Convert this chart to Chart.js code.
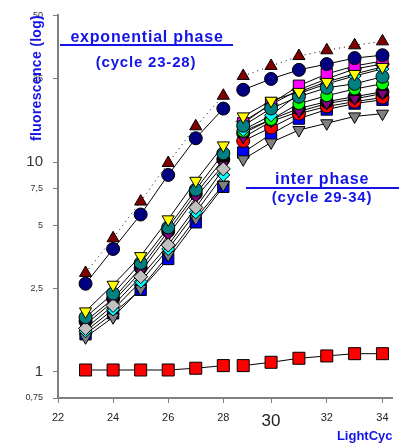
<!DOCTYPE html>
<html>
<head>
<meta charset="utf-8">
<script src="https://cdn.jsdelivr.net/npm/chart.js@4.4.1/dist/chart.umd.min.js"></script>
<style>
  html, body { margin: 0; padding: 0; background: #fff; }
</style>
</head>
<body>
<canvas id="pcrChart" width="402" height="447"></canvas>
<script>
// cycles of the two pasted panels
const cyclesExp = [23, 24, 25, 26, 27, 28];
const cyclesInter = [29, 30, 31, 32, 33, 34];

// tick labels
const yTicks = [0.75, 1, 2.5, 5, 7.5, 10, 25, 50];
const xTicksExp = [22, 24, 26, 28];
const xTicksInter = [30, 32, 34];

// fluorescence values, exponential phase (cycle 23-28)
const maroonExp  = [2.96, 4.33, 6.48, 9.89, 14.8, 20.7];
const navyExp    = [2.63, 3.85, 5.62, 8.68, 12.98, 17.98];
const yellowExp  = [1.94, 2.60, 3.56, 5.33, 8.14, 12.0];
const tealExp    = [1.82, 2.36, 3.30, 4.88, 7.38, 11.0];
const blackExp   = [1.74, 2.23, 3.13, 4.68, 7.06, 10.3];
const purpleExp  = [1.68, 2.16, 2.99, 4.48, 6.77, 9.68];
const silverExp  = [1.61, 2.07, 2.84, 4.02, 6.07, 9.27];
const cyanExp    = [1.56, 1.98, 2.69, 3.85, 5.75, 8.68];
const blueExp    = [1.51, 1.90, 2.46, 3.45, 5.16, 7.62];
const grayExp    = [1.46, 1.82, 2.49, 3.60, 5.38, 7.79];
const controlExp = [1.02, 1.02, 1.02, 1.02, 1.04, 1.07];

// fluorescence values, inter phase (cycle 29-34)
const maroonInter  = [25.7, 28.7, 32.0, 34.1, 36.0, 37.6];
const navyInter    = [22.1, 24.9, 27.5, 29.3, 31.3, 32.3];
const magentaInter = [15.3, 19.0, 23.1, 26.3, 28.7, 30.3];
const yellowInter  = [16.5, 19.6, 21.6, 24.1, 26.3, 28.4];
const silverInter  = [15.6, 18.8, 22.1, 24.9, 27.8, 29.3];
const cyanInter    = [14.2, 16.7, 21.2, 23.6, 25.7, 27.8];
const tealInter    = [14.9, 18.0, 20.5, 22.6, 23.6, 25.5];
const greenInter   = [14.0, 15.95, 19.0, 20.7, 22.3, 23.6];
const blackInter   = [13.7, 15.95, 18.0, 19.4, 20.5, 21.6];
const purpleInter  = [13.1, 15.6, 17.4, 19.0, 20.0, 21.2];
const redInter     = [12.6, 14.6, 17.0, 18.4, 19.4, 20.3];
const blueInter    = [11.1, 13.6, 16.1, 17.8, 19.0, 19.8];
const grayInter    = [10.3, 12.4, 14.2, 15.3, 16.5, 17.0];
const controlInter = [1.07, 1.11, 1.16, 1.19, 1.22, 1.22];

const FONT = "'Liberation Sans', Arial, sans-serif";
const BLUE = 'rgb(20,20,230)';

// first entry is painted on top
const looks = [
  { exp: maroonExp,  inter: maroonInter,  color: '#800000', shape: 'triangle', r: 7, dash: [1, 4] },
  { exp: navyExp,    inter: navyInter,    color: '#000080', shape: 'circle',   r: 6.5 },
  { exp: yellowExp,  inter: yellowInter,  color: '#ffff00', shape: 'triangle', r: 7, rot: 180 },
  { exp: tealExp,    inter: tealInter,    color: '#008080', shape: 'circle',   r: 6.5 },
  { exp: null,       inter: magentaInter, color: '#ff00ff', shape: 'rect',     r: 8 },
  { exp: silverExp,  inter: silverInter,  color: '#c0c0c0', shape: 'rectRot',  r: 7 },
  { exp: cyanExp,    inter: cyanInter,    color: '#00ffff', shape: 'rectRot',  r: 6.5 },
  { exp: null,       inter: greenInter,   color: '#00ff00', shape: 'circle',   r: 6 },
  { exp: purpleExp,  inter: purpleInter,  color: '#800080', shape: 'triangle', r: 6.5, rot: 180 },
  { exp: blackExp,   inter: blackInter,   color: '#000000', shape: 'circle',   r: 6.5 },
  { exp: null,       inter: redInter,     color: '#ff0000', shape: 'circle',   r: 6.5 },
  { exp: grayExp,    inter: grayInter,    color: '#808080', shape: 'triangle', r: 7, rot: 180 },
  { exp: blueExp,    inter: blueInter,    color: '#0000ff', shape: 'rect',     r: 8 },
  { exp: controlExp, inter: controlInter, color: '#ff0000', shape: 'rect',     r: 8.5 }
];

function makeSet(values, cycles, look, axisId) {
  return {
    data: values.map((v, i) => ({ x: cycles[i], y: v })),
    xAxisID: axisId,
    borderColor: '#000',
    borderWidth: 1,
    borderDash: look.dash || [],
    backgroundColor: look.color,
    pointBackgroundColor: look.color,
    pointBorderColor: '#000',
    pointBorderWidth: 1,
    pointStyle: look.shape,
    pointRotation: look.rot || 0,
    pointRadius: look.r,
    pointHoverRadius: look.r,
    tension: 0
  };
}

const datasets = [];
looks.forEach(look => {
  if (look.exp) datasets.push(makeSet(look.exp, cyclesExp, look, 'x'));
  if (look.inter) datasets.push(makeSet(look.inter, cyclesInter, look, 'x2'));
});

// phase labels and the y title, drawn over the axes
const overlayText = {
  id: 'overlayText',
  afterDraw(chart) {
    const ctx = chart.ctx;
    ctx.save();
    ctx.fillStyle = BLUE;
    ctx.strokeStyle = BLUE;
    ctx.textAlign = 'center';
    ctx.textBaseline = 'middle';
    ctx.font = 'bold 16px ' + FONT;
    ctx.letterSpacing = '0.8px';
    ctx.fillText('exponential phase', 147, 38);
    ctx.fillText('inter phase', 322, 180);
    ctx.font = 'bold 15px ' + FONT;
    ctx.fillText('(cycle 23-28)', 146, 63);
    ctx.fillText('(cycle 29-34)', 322, 198);
    ctx.lineWidth = 2;
    ctx.beginPath();
    ctx.moveTo(60, 45); ctx.lineTo(233, 45);
    ctx.moveTo(246, 188); ctx.lineTo(399, 188);
    ctx.stroke();
    ctx.translate(37, 78);
    ctx.rotate(-Math.PI / 2);
    ctx.font = 'bold 14px ' + FONT;
    ctx.letterSpacing = '0.3px';
    ctx.fillText('fluorescence (log)', 0, 0);
    ctx.restore();
  }
};

new Chart(document.getElementById('pcrChart'), {
  type: 'line',
  data: { datasets },
  options: {
    responsive: false,
    animation: false,
    layout: { padding: { top: 13, right: 4, left: 0, bottom: 0 } },
    plugins: { legend: { display: false }, tooltip: { enabled: false } },
    scales: {
      x: {
        type: 'linear',
        position: 'bottom',
        min: 22,
        max: 34.14,
        afterBuildTicks: s => { s.ticks = xTicksExp.map(v => ({ value: v })); },
        afterFit: s => { s.height = 49; },
        ticks: { color: '#222', padding: 8, font: { family: FONT, size: 11 } },
        grid: { drawOnChartArea: false, tickLength: 5, color: '#808080', lineWidth: 1 },
        border: { color: '#808080', width: 2 },
        title: {
          display: true, text: 'LightCyc', align: 'end', color: BLUE,
          font: { family: FONT, size: 13, weight: 'bold' }, padding: { top: 0, bottom: 3 }
        }
      },
      x2: {
        type: 'linear',
        position: { y: 0.75 },
        min: 22.35,
        max: 34.36,
        afterBuildTicks: s => { s.ticks = xTicksInter.map(v => ({ value: v })); },
        ticks: {
          color: '#222', padding: 8,
          font: c => ({ family: FONT, size: c.tick && c.tick.value === 30 ? 17 : 11 })
        },
        grid: { drawOnChartArea: false, tickLength: 5, color: '#808080', lineWidth: 1 },
        border: { display: false }
      },
      y: {
        type: 'logarithmic',
        min: 0.75,
        max: 50,
        afterBuildTicks: s => { s.ticks = yTicks.map(v => ({ value: v })); },
        afterFit: s => { s.width = 58; },
        ticks: {
          color: '#333', padding: 10,
          callback: v => String(v).replace('.', ','),
          font: c => ({ family: FONT, size: c.tick && (c.tick.value === 10 || c.tick.value === 1) ? 15 : 9 })
        },
        grid: { drawOnChartArea: false, tickLength: 5, color: '#808080', lineWidth: 1 },
        border: { color: '#808080', width: 2 }
      }
    }
  },
  plugins: [overlayText]
});
</script>
</body>
</html>
